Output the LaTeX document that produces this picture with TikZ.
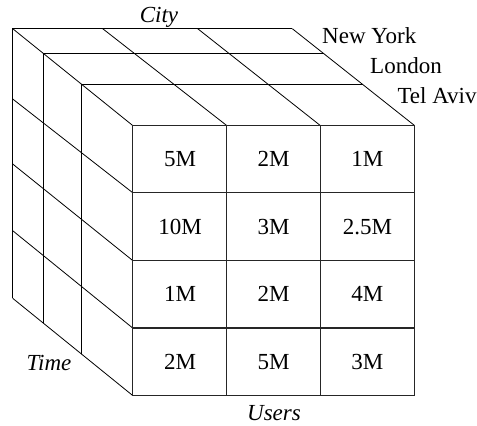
\documentclass[tikz,border=0pt]{standalone}
\usepackage{fontspec}
\setmainfont{Liberation Serif}
\usetikzlibrary{calc}
\begin{document}
\begin{tikzpicture}[x=1bp,y=-1bp,
  thin edge/.style={line width=0.8bp,black},
  front edge/.style={line width=1.2bp,black!85},
  lbl/.style={inner sep=0pt,font=\fontsize{23bp}{27bp}\selectfont},
  axis lbl/.style={lbl,font=\fontsize{23bp}{27bp}\selectfont\itshape},
  cell/.style={lbl}]
\useasboundingbox (0,0) rectangle (477,425);

% back face corners and grid marks
\coordinate (b00) at (12.7,28.7);
\coordinate (bt1) at (102.7,28.7);
\coordinate (bt2) at (197.7,28.7);
\coordinate (bt3) at (292.3,28.7);
\coordinate (bl1) at (12.7,99);
\coordinate (bl2) at (12.7,164);
\coordinate (bl3) at (12.7,230.7);
\coordinate (bl4) at (12.7,298.3);

% front face corners and grid marks
\coordinate (f00) at (132.7,125.5);
\coordinate (ft1) at (226.7,125.5);
\coordinate (ft2) at (320.3,125.5);
\coordinate (ft3) at (414.5,125.5);
\coordinate (fl1) at (132.7,192.7);
\coordinate (fl2) at (132.7,260.5);
\coordinate (fl3) at (132.7,328);
\coordinate (fl4) at (132.7,395.5);
\coordinate (fbr) at (414.5,395.5);

% the two inner slices
\coordinate (s1a) at ($(b00)!0.257!(f00)$);
\coordinate (s1b) at ($(bt3)!0.257!(ft3)$);
\coordinate (s1c) at ($(bl4)!0.257!(fl4)$);
\coordinate (s2a) at ($(b00)!0.576!(f00)$);
\coordinate (s2b) at ($(bt3)!0.576!(ft3)$);
\coordinate (s2c) at ($(bl4)!0.576!(fl4)$);

% top face
\draw[thin edge] (bl4) -- (b00) -- (bt3);
\draw[thin edge] (s1c) -- (s1a) -- (s1b);
\draw[thin edge] (s2c) -- (s2a) -- (s2b);
\foreach \b/\f in {b00/f00,bt1/ft1,bt2/ft2,bt3/ft3}
  \draw[thin edge] (\b) -- (\f);
% left face
\foreach \b/\f in {bl1/fl1,bl2/fl2,bl3/fl3,bl4/fl4}
  \draw[thin edge] (\b) -- (\f);

% front face grid
\draw[front edge] (f00) rectangle (fbr);
\foreach \t in {ft1,ft2}
  \draw[front edge] (\t) -- (\t |- fbr);
\foreach \l in {fl1,fl2,fl3}
  \draw[front edge] (\l) -- (\l -| fbr);

% cell values
\node[cell] (c11) at (180,159) {5M};
\node[cell] (c12) at (273.5,159) {2M};
\node[cell] (c13) at (367.4,159) {1M};
\node[cell] (c21) at (180,226.6) {10M};
\node[cell] (c22) at (273.5,226.6) {3M};
\node[cell] (c23) at (367.4,226.6) {2.5M};
\node[cell] (c31) at (180,294.2) {1M};
\node[cell] (c32) at (273.5,294.2) {2M};
\node[cell] (c33) at (367.4,294.2) {4M};
\node[cell] (c41) at (180,361.7) {2M};
\node[cell] (c42) at (273.5,361.7) {5M};
\node[cell] (c43) at (367.4,361.7) {3M};

% axis and member labels
\node[axis lbl,anchor=base] (city) at (159,22.7) {City};
\node[lbl,anchor=base west] (ny) at (322,43.3) {New York};
\node[lbl,anchor=base west] (lon) at (370,73.3) {London};
\node[lbl,anchor=base west] (tlv) at (397.3,103.3) {Tel Aviv};
\node[axis lbl,anchor=base] (time) at (49,370) {Time};
\node[axis lbl,anchor=base] (users) at (274,420) {Users};
\end{tikzpicture}
\end{document}
